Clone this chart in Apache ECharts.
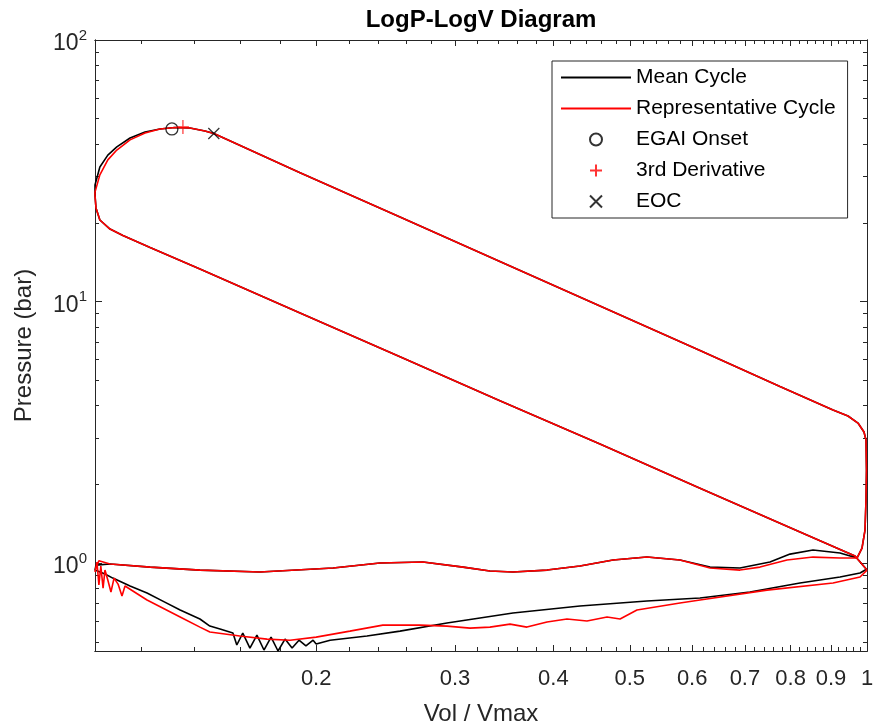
<!DOCTYPE html>
<html>
<head>
<meta charset="utf-8">
<script src="https://cdn.jsdelivr.net/npm/echarts@6/dist/echarts.min.js"></script>
<style>
html,body{margin:0;padding:0;background:#fff;}
#chart{width:876px;height:728px;}
</style>
</head>
<body>
<div id="chart"></div>
<script>
// ---------------- data ----------------
// Mean cycle (black): compression -> combustion -> expansion -> blowdown -> exhaust -> intake
const meanV = [
  1.0, 0.9655, 0.8222, 0.6139, 0.4583, 0.3421, 0.2555, 0.1908, 0.1424, 0.1231, 0.1137, 0.1095, 0.1063, 0.1051, 0.1048,
  0.1048, 0.1063, 0.1088, 0.1117, 0.1161, 0.1213, 0.1267, 0.1323, 0.1383, 0.1445, 0.1483,
  0.1908, 0.2555, 0.3421, 0.4583, 0.6139, 0.7754, 0.9055, 0.9460, 0.9740, 0.9913, 0.9971,
  0.9985, 0.9971, 0.9942, 0.9855, 0.9712,
  0.9242, 0.8541, 0.7986, 0.7531, 0.6899, 0.6321, 0.5790, 0.5257, 0.4762, 0.4323, 0.3926, 0.3554, 0.3323, 0.3072, 0.2732, 0.2410, 0.2101, 0.1697, 0.1424, 0.1231, 0.1095, 0.1051,
  0.1048, 0.1079, 0.1104, 0.1161, 0.1220, 0.1285, 0.1344, 0.1424, 0.1466, 0.1510,
  0.1568, 0.1586, 0.1614, 0.1648, 0.1682, 0.1717, 0.1753, 0.1789, 0.1826, 0.1864, 0.1902, 0.1941, 0.1982, 0.2000,
  0.2083, 0.2320, 0.2555, 0.2931, 0.3554, 0.4323, 0.5257, 0.6139, 0.7104, 0.8222, 0.9242, 0.9798, 1.0
];
const meanP = [
  0.940, 1.064, 1.315, 1.933, 2.852, 4.178, 6.145, 9.04, 13.31, 16.09, 17.88, 18.93, 20.5, 22.8, 25.5,
  27.9, 32.7, 36.3, 39.0, 42.2, 44.5, 45.7, 46.3, 46.1, 44.9, 43.9,
  31.1, 21.04, 14.22, 9.61, 6.495, 4.73, 3.85, 3.65, 3.43, 3.17, 2.95,
  2.27, 1.741, 1.337, 1.141, 1.045,
  1.092, 1.121, 1.082, 1.009, 0.957, 0.965, 1.027, 1.054, 1.027, 0.974, 0.940, 0.924, 0.932, 0.965, 1.009, 1.000, 0.957, 0.924, 0.940, 0.965, 0.991, 0.982,
  0.940, 0.908, 0.876, 0.817, 0.768, 0.709, 0.661, 0.611, 0.574, 0.559,
  0.540, 0.486, 0.540, 0.473, 0.530, 0.465, 0.521, 0.461, 0.512, 0.473, 0.507, 0.482, 0.507, 0.490,
  0.507, 0.526, 0.549, 0.590, 0.644, 0.685, 0.716, 0.735, 0.775, 0.839, 0.884, 0.916, 0.949
];

// Representative cycle (red)
const repV = [
  1.0, 0.9655, 0.8222, 0.6139, 0.4583, 0.3421, 0.2555, 0.1908, 0.1424, 0.1231, 0.1137, 0.1095, 0.1063, 0.1051, 0.1048,
  0.1048, 0.1063, 0.1088, 0.1117, 0.1161, 0.1213, 0.1267, 0.1323, 0.1383, 0.1445, 0.1483,
  0.1908, 0.2555, 0.3421, 0.4583, 0.6139, 0.7754, 0.9055, 0.9460, 0.9740, 0.9913, 0.9971,
  0.9985, 0.9971, 0.9942, 0.9855, 0.9712,
  0.9242, 0.8541, 0.7916, 0.7314, 0.6899, 0.6321, 0.5790, 0.5257, 0.4762, 0.4323, 0.3926, 0.3554, 0.3323, 0.3072, 0.2732, 0.2410, 0.2101, 0.1697, 0.1424, 0.1231, 0.1095, 0.1060, 0.1051,
  0.1048, 0.1054, 0.1060, 0.1066, 0.1073, 0.1079, 0.1088, 0.1098, 0.1108, 0.1121, 0.1134, 0.1144, 0.1220, 0.1344, 0.1424, 0.1466,
  0.1600, 0.1732, 0.1853, 0.2000, 0.2207, 0.2430, 0.2709, 0.2931, 0.3135, 0.3323, 0.3524, 0.3702, 0.3926, 0.4162, 0.4412, 0.4679, 0.4860, 0.5106,
  0.5790, 0.6139, 0.7465, 0.9055, 0.9798, 1.0
];
const repP = [
  0.940, 1.064, 1.315, 1.933, 2.852, 4.178, 6.145, 9.04, 13.31, 16.09, 17.88, 18.93, 20.5, 22.8, 25.5,
  26.2, 30.5, 34.8, 37.96, 41.5, 44.1, 45.7, 46.3, 46.1, 44.9, 43.9,
  31.1, 21.04, 14.22, 9.61, 6.495, 4.73, 3.85, 3.65, 3.43, 3.17, 2.95,
  2.27, 1.741, 1.337, 1.141, 1.045,
  1.045, 1.054, 1.027, 0.965, 0.940, 0.957, 1.027, 1.054, 1.027, 0.974, 0.940, 0.924, 0.932, 0.965, 1.009, 1.000, 0.957, 0.924, 0.940, 0.965, 0.991, 1.02, 0.96,
  0.924, 1.009, 0.824, 0.974, 0.802, 0.940, 0.861, 0.775, 0.876, 0.831, 0.748, 0.817, 0.722, 0.622, 0.569, 0.545,
  0.526, 0.512, 0.507, 0.521, 0.549, 0.579, 0.579, 0.574, 0.564, 0.569, 0.584, 0.569, 0.595, 0.611, 0.600, 0.622, 0.611, 0.661,
  0.703, 0.722, 0.788, 0.839, 0.884, 0.940
];

// Event markers [Vol/Vmax, Pressure]
const egaiOnset = [0.1312, 45.7];
const thirdDerivative = [0.1355, 46.5];
const eoc = [0.1483, 43.9];

// Axis ranges and ticks
const xRange = [0.1048, 1];
const yRange = [0.461, 100];
const xTickValues = [0.2, 0.3, 0.4, 0.5, 0.6, 0.7, 0.8, 0.9, 1];
const xTickLabels = ['0.2', '0.3', '0.4', '0.5', '0.6', '0.7', '0.8', '0.9', '1'];
const xMinorTicks = [0.12, 0.14, 0.16, 0.18, 0.22, 0.24, 0.26, 0.28, 0.32, 0.34, 0.36, 0.38,
  0.42, 0.44, 0.46, 0.48, 0.52, 0.54, 0.56, 0.58, 0.62, 0.64, 0.66, 0.68, 0.72, 0.74, 0.76, 0.78,
  0.82, 0.84, 0.86, 0.88, 0.92, 0.94, 0.96, 0.98];
const yTickValues = [1, 10, 100];
const yTickExponents = ['0', '1', '2'];
const yMinorTicks = [0.5, 0.6, 0.7, 0.8, 0.9, 2, 3, 4, 5, 6, 7, 8, 9, 20, 30, 40, 50, 60, 70, 80, 90];

// ---------------- chart ----------------
const FONT = '"Liberation Sans", Arial, Helvetica, sans-serif';
const AX = '#262626';
const pairs = (a, b) => a.map((v, i) => [v, b[i]]);

function xAx(position, ticks, len, showLabels) {
  return {
    type: 'log', logBase: 10, min: xRange[0], max: xRange[1], position: position,
    splitLine: { show: false },
    axisLine: { show: true, lineStyle: { color: AX, width: 1 } },
    axisTick: { show: true, inside: true, length: len, customValues: ticks, lineStyle: { color: AX, width: 1 } },
    axisLabel: showLabels ? {
      show: true, customValues: xTickValues, margin: 17,
      fontFamily: FONT, fontSize: 22, color: AX,
      formatter: function (v) { const i = xTickValues.findIndex(t => Math.abs(t - v) < 1e-6); return i >= 0 ? xTickLabels[i] : ''; }
    } : { show: false },
    name: showLabels ? 'Vol / Vmax' : '',
    nameLocation: 'middle', nameGap: 51,
    nameTextStyle: { fontFamily: FONT, fontSize: 24, color: AX }
  };
}
function yAx(position, ticks, len, showLabels) {
  return {
    type: 'log', logBase: 10, min: yRange[0], max: yRange[1], position: position,
    splitLine: { show: false },
    axisLine: { show: true, lineStyle: { color: AX, width: 1 } },
    axisTick: { show: true, inside: true, length: len, customValues: ticks, lineStyle: { color: AX, width: 1 } },
    axisLabel: showLabels ? {
      show: true, customValues: yTickValues, margin: 8,
      formatter: function (v) { const i = yTickValues.findIndex(t => Math.abs(t - v) / t < 1e-6); return '{b|10}{s|' + (i >= 0 ? yTickExponents[i] : '') + '}'; },
      rich: {
        b: { fontFamily: FONT, fontSize: 23, color: AX, lineHeight: 24, padding: [8, 0, 0, 0] },
        s: { fontFamily: FONT, fontSize: 15, color: AX, lineHeight: 16, verticalAlign: 'top' }
      }
    } : { show: false },
    name: showLabels ? 'Pressure (bar)' : '',
    nameLocation: 'middle', nameGap: 59,
    nameTextStyle: { fontFamily: FONT, fontSize: 24, color: AX }
  };
}

const chart = echarts.init(document.getElementById('chart'), null, { renderer: 'canvas' });
chart.setOption({
  animation: false,
  backgroundColor: '#ffffff',
  title: {
    text: 'LogP-LogV Diagram', left: 481, top: 8, textAlign: 'center', padding: 0,
    textStyle: { fontFamily: FONT, fontSize: 24, fontWeight: 'bold', color: '#000' }
  },
  grid: { left: 95, right: 9, top: 40, bottom: 77, containLabel: false, outerBoundsMode: 'none' },
  legend: {
    orient: 'vertical', left: 552, top: 61,
    padding: [6, 12, 6, 8], itemGap: 10, itemWidth: 70, itemHeight: 12,
    backgroundColor: '#fff', borderColor: AX, borderWidth: 1, borderRadius: 0,
    textStyle: { fontFamily: FONT, fontSize: 21, color: '#000', lineHeight: 20 },
    data: [
      { name: 'Mean Cycle', itemStyle: { opacity: 0 } },
      { name: 'Representative Cycle', itemStyle: { opacity: 0 } },
      'EGAI Onset', '3rd Derivative', 'EOC'
    ]
  },
  xAxis: [
    xAx('bottom', xTickValues, 6, true),
    xAx('top', xTickValues, 6, false),
    xAx('bottom', xMinorTicks, 4, false),
    xAx('top', xMinorTicks, 4, false)
  ],
  yAxis: [
    yAx('left', yTickValues, 7, true),
    yAx('right', yTickValues, 7, false),
    yAx('left', yMinorTicks, 4, false),
    yAx('right', yMinorTicks, 4, false)
  ],
  series: [
    {
      name: 'Mean Cycle', type: 'line', xAxisIndex: 0, yAxisIndex: 0,
      data: pairs(meanV, meanP), symbol: 'none', showSymbol: false,
      itemStyle: { color: '#000' }, lineStyle: { color: '#000', width: 1.6 }, z: 2
    },
    {
      name: 'Representative Cycle', type: 'line', xAxisIndex: 0, yAxisIndex: 0,
      data: pairs(repV, repP), symbol: 'none', showSymbol: false,
      itemStyle: { color: '#ff0000' }, lineStyle: { color: '#ff0000', width: 1.6 }, z: 3
    },
    {
      name: 'EGAI Onset', type: 'scatter', xAxisIndex: 0, yAxisIndex: 0,
      data: [egaiOnset], symbol: 'circle', symbolSize: 12,
      itemStyle: { color: 'none', borderColor: '#000', borderWidth: 1.3 }, z: 4
    },
    {
      name: '3rd Derivative', type: 'scatter', xAxisIndex: 0, yAxisIndex: 0,
      data: [thirdDerivative], symbol: 'path://M0,6L12,6M6,0L6,12', symbolSize: [12, 14],
      itemStyle: { color: 'none', borderColor: '#ff0000', borderWidth: 1.3 }, z: 4
    },
    {
      name: 'EOC', type: 'scatter', xAxisIndex: 0, yAxisIndex: 0,
      data: [eoc], symbol: 'path://M0,0L10,10M10,0L0,10', symbolSize: 11,
      itemStyle: { color: 'none', borderColor: '#000', borderWidth: 1.3 }, z: 4
    }
  ]
});
</script>
</body>
</html>
